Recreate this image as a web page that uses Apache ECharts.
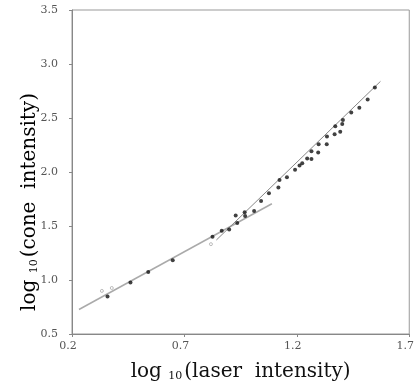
<!DOCTYPE html>
<html><head><meta charset="utf-8">
<script src="https://cdn.jsdelivr.net/npm/echarts@6/dist/echarts.min.js"></script>
<style>html,body{margin:0;padding:0;background:#fff}#c{width:417px;height:387px}</style>
</head><body><div id="c"></div>
<script>
// log10(laser intensity), log10(cone intensity)
const pointsX = [0.358,0.460,0.539,0.648,0.825,0.866,0.899,0.928,0.935,0.970,0.968,1.010,1.041,1.076,1.118,1.123,1.156,1.192,1.212,1.224,1.246,1.265,1.265,1.297,1.295,1.333,1.334,1.368,1.371,1.393,1.402,1.405,1.442,1.478,1.515,1.547];
const pointsY = [0.847,0.978,1.074,1.183,1.401,1.455,1.468,1.597,1.528,1.592,1.628,1.640,1.732,1.803,1.857,1.925,1.952,2.020,2.061,2.082,2.125,2.120,2.191,2.257,2.181,2.257,2.329,2.350,2.423,2.373,2.445,2.482,2.552,2.594,2.671,2.782];
const faintX = [0.333,0.377,0.818];
const faintY = [0.899,0.926,1.332];
const fitLowX = [0.231,1.089];
const fitLowY = [0.727,1.706];
const fitHighX = [0.842,1.572];
const fitHighY = [1.370,2.839];
const xTicks = [0.2,0.7,1.2,1.7];
const yTicks = [0.5,1.0,1.5,2.0,2.5,3.0,3.5];
const xTitle = ['log ','10','(laser  intensity)'];
const yTitle = ['log ','10','(cone  intensity)'];

const zip = (a,b)=>a.map((v,i)=>[v,b[i]]);
const serif = 'DejaVu Serif';
const titleRich = {a:{fontFamily:serif,fontSize:20,color:'#111'},s:{fontFamily:serif,fontSize:11,color:'#111',padding:[8,2,0,0]}};
const chart = echarts.init(document.getElementById('c'));
chart.setOption({
  animation:false,
  backgroundColor:'#fff',
  grid:{left:72,right:6,top:10,bottom:46,show:true,borderColor:'#999',borderWidth:1},
  xAxis:{type:'value',min:0.2,max:1.7,interval:0.5,
    axisLine:{show:true,lineStyle:{color:'#888'}},
    axisTick:{show:true,length:3,lineStyle:{color:'#888'}},
    splitLine:{show:false},
    axisLabel:{fontFamily:serif,fontSize:11,color:'#555',margin:7,padding:[0,8,0,0],
      formatter:v=>xTicks.includes(+v.toFixed(1))?v.toFixed(1):''},
    name:'{a|'+xTitle[0]+'}{s|'+xTitle[1]+'}{a|'+xTitle[2]+'}',nameLocation:'middle',nameGap:28,
    nameTextStyle:{rich:titleRich}
  },
  yAxis:{type:'value',min:0.5,max:3.5,interval:0.5,
    axisLine:{show:true,lineStyle:{color:'#888'}},
    axisTick:{show:true,length:3,lineStyle:{color:'#888'}},
    splitLine:{show:false},
    axisLabel:{fontFamily:serif,fontSize:11,color:'#555',margin:14,
      formatter:v=>yTicks.includes(+v.toFixed(1))?v.toFixed(1):''}
  },
  graphic:[{type:'text',x:30,y:202,rotation:Math.PI/2,z:10,
    style:{text:'{a|'+yTitle[0]+'}{s|'+yTitle[1]+'}{a|'+yTitle[2]+'}',rich:titleRich,align:'center',verticalAlign:'middle'}}],
  series:[
    {type:'line',data:zip(fitLowX,fitLowY),symbol:'none',lineStyle:{color:'#aaa',width:1.5},z:1},
    {type:'line',data:zip(fitHighX,fitHighY),symbol:'none',lineStyle:{color:'#888',width:1},z:1},
    {type:'scatter',data:zip(faintX,faintY),symbol:'circle',symbolSize:3,itemStyle:{color:'#fff',borderColor:'#999',borderWidth:0.8},z:2},
    {type:'scatter',data:zip(pointsX,pointsY),symbol:'circle',symbolSize:4,itemStyle:{color:'#111'},z:3}
  ]
});
</script></body></html>
